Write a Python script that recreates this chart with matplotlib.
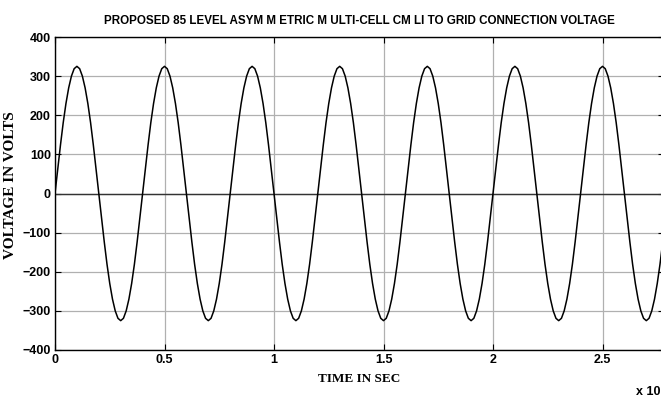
import numpy as np
import matplotlib
matplotlib.use("Agg")
import matplotlib.pyplot as plt

# grid voltage every 0.0125 time units, one row per cycle (period 0.4)
voltage = [
    0, 63, 124, 181, 230, 270, 300, 319, 325, 319, 300, 270, 230, 181, 124, 63,
    0, -63, -124, -181, -230, -270, -300, -319, -325, -319, -300, -270, -230, -181, -124, -63,
    0, 63, 124, 181, 230, 270, 300, 319, 325, 319, 300, 270, 230, 181, 124, 63,
    0, -63, -124, -181, -230, -270, -300, -319, -325, -319, -300, -270, -230, -181, -124, -63,
    0, 63, 124, 181, 230, 270, 300, 319, 325, 319, 300, 270, 230, 181, 124, 63,
    0, -63, -124, -181, -230, -270, -300, -319, -325, -319, -300, -270, -230, -181, -124, -63,
    0, 63, 124, 181, 230, 270, 300, 319, 325, 319, 300, 270, 230, 181, 124, 63,
    0, -63, -124, -181, -230, -270, -300, -319, -325, -319, -300, -270, -230, -181, -124, -63,
    0, 63, 124, 181, 230, 270, 300, 319, 325, 319, 300, 270, 230, 181, 124, 63,
    0, -63, -124, -181, -230, -270, -300, -319, -325, -319, -300, -270, -230, -181, -124, -63,
    0, 63, 124, 181, 230, 270, 300, 319, 325, 319, 300, 270, 230, 181, 124, 63,
    0, -63, -124, -181, -230, -270, -300, -319, -325, -319, -300, -270, -230, -181, -124, -63,
    0, 63, 124, 181, 230, 270, 300, 319, 325, 319, 300, 270, 230, 181, 124, 63,
    0, -63, -124, -181, -230, -270, -300, -319, -325, -319, -300, -270, -230, -181, -124, -63,
    0,
]
time = np.linspace(0, 2.8, len(voltage))

xticks = [0, 0.5, 1, 1.5, 2, 2.5]
xticklabels = ["0", "0.5", "1", "1.5", "2", "2.5"]
yticks = [-400, -300, -200, -100, 0, 100, 200, 300, 400]

title = "PROPOSED 85 LEVEL ASYM M ETRIC M ULTI-CELL CM LI TO GRID CONNECTION VOLTAGE"

sans = ["Liberation Sans Narrow", "Liberation Sans", "DejaVu Sans"]
serif = ["Liberation Serif", "DejaVu Serif"]

fig = plt.figure(figsize=(6.61, 4.03), dpi=100)
# the right edge of the axes sits just outside the picture, as in the reference
ax = fig.add_axes([55 / 661, 53 / 403, 609 / 661, 313 / 403])

ax.plot(time, voltage, color="black", lw=1.1, zorder=3)
ax.axhline(0, color="#333333", lw=1.0, zorder=2)

ax.set_xlim(0, 609 / 219)
ax.set_ylim(-400, 400)
ax.set_xticks(xticks)
ax.set_xticklabels(xticklabels)
ax.set_yticks(yticks)
ax.grid(True, color="#b0b0b0", lw=0.9, ls="-")
ax.set_axisbelow(True)

ax.tick_params(direction="in", length=4, width=0.8, top=True, right=True, pad=3)
for lab in ax.get_xticklabels() + ax.get_yticklabels():
    lab.set_family(sans)
    lab.set_fontweight("bold")
    lab.set_fontsize(9)
for s in ax.spines.values():
    s.set_linewidth(1.0)

ax.set_title(title, family=sans, fontweight="bold", fontsize=8.4, pad=9)
ax.set_xlabel("TIME IN SEC", family=serif, fontweight="bold", fontsize=9.5, labelpad=5)
ax.set_ylabel("VOLTAGE IN VOLTS", family=serif, fontweight="bold", fontsize=11)
ax.yaxis.set_label_coords(-38 / 609, (350 - 185) / 313)
fig.text(660 / 661, 1 - 395 / 403, "x 10", family=sans, fontweight="bold", fontsize=9,
         ha="right", va="baseline")

fig.savefig("out.png", dpi=100)
plt.close(fig)
